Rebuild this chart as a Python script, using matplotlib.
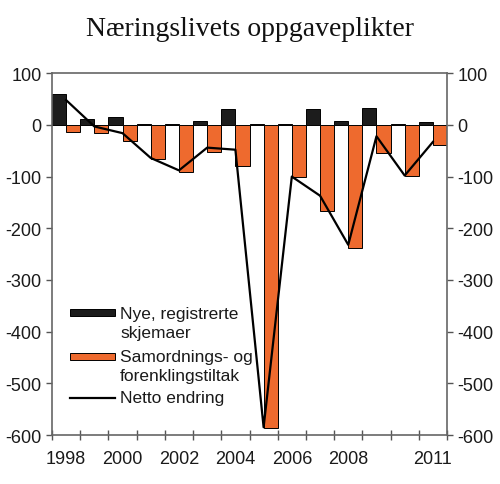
import matplotlib
matplotlib.use("Agg")
import matplotlib.pyplot as plt
from matplotlib.patches import Rectangle
from matplotlib.lines import Line2D
import numpy as np

years = list(range(1998, 2012))
new_forms = [60, 11, 16, 1, 2, 8, 30, 2, 2, 30, 8, 32, 1, 6]
simplification = [-13, -16, -32, -66, -92, -53, -79, -587, -100, -167, -239, -55, -99, -39]
net_change = [48, -3, -16, -64, -88, -44, -48, -585, -100, -137, -232, -22, -98, -33]
labeled_years = [1998, 2000, 2002, 2004, 2006, 2008, 2011]
yticks = [-600, -500, -400, -300, -200, -100, 0, 100]
legend_labels = [['Nye, registrerte', 'skjemaer'],
                 ['Samordnings- og', 'forenklingstiltak'],
                 ['Netto endring']]

BLACK = '#1c1c1c'
ORANGE = '#EE6A2E'

plt.rcParams['font.family'] = ['Liberation Sans', 'DejaVu Sans']

W, H = 500, 485
fig = plt.figure(figsize=(W / 100, H / 100), dpi=100)
ax = fig.add_axes([0.104, 0.101, 0.79, 0.746])

x = np.arange(len(years))
w = 0.5
ax.bar(x - w / 2, new_forms, width=w, color=BLACK, edgecolor='black', linewidth=0.7, zorder=2)
ax.bar(x + w / 2, simplification, width=w, color=ORANGE, edgecolor='black', linewidth=0.7, zorder=2)
ax.plot(x, net_change, color='black', linewidth=1.6, zorder=3)

ax.set_xlim(-0.5, len(years) - 0.5)
ax.set_ylim(-600, 100)

# x ticks at category boundaries, labels at centres
ax.set_xticks(np.arange(len(years) + 1) - 0.5)
ax.set_xticklabels([])
ax.set_xticks([years.index(y) for y in labeled_years], minor=True)
ax.set_xticklabels([str(y) for y in labeled_years], minor=True)
ax.tick_params(axis='x', which='major', direction='inout', length=7, width=1, color='#555555')
ax.tick_params(axis='x', which='minor', length=0, pad=11, labelsize=13, labelcolor='#1a1a1a')

ax.set_yticks(yticks)
ax.set_yticklabels([str(v) for v in yticks])
ax.tick_params(axis='y', which='major', direction='out', length=4.5, width=1, color='#555555',
               labelsize=13, labelcolor='#1a1a1a', left=True, right=True,
               labelleft=True, labelright=True, pad=3)

for s in ax.spines.values():
    s.set_color('#666666')
    s.set_linewidth(1.2)

fig.suptitle('Næringslivets oppgaveplikter', x=0.5, y=0.964,
             fontsize=20, family=['Liberation Serif', 'DejaVu Serif'], color='#111111')

# manual legend (handles aligned with first text line, as in the reference)
def fx(px):
    return px / W

def fy(py):
    return 1 - py / H

hx0, hx1, tx = 70, 115, 120
fig.patches.append(Rectangle((fx(hx0), fy(317)), fx(hx1) - fx(hx0), fy(310) - fy(317),
                             transform=fig.transFigure, facecolor=BLACK, edgecolor='black',
                             linewidth=0.7))
fig.patches.append(Rectangle((fx(hx0), fy(361)), fx(hx1) - fx(hx0), fy(354) - fy(361),
                             transform=fig.transFigure, facecolor=ORANGE, edgecolor='black',
                             linewidth=0.7))
fig.lines.append(Line2D([fx(hx0), fx(hx1)], [fy(399), fy(399)], transform=fig.transFigure,
                        color='black', linewidth=1.6))
line_y = [[314, 333.5], [357.5, 377], [399]]
for labels, ys in zip(legend_labels, line_y):
    for lab, yy in zip(labels, ys):
        fig.text(fx(tx), fy(yy), lab, fontsize=12.5, color='#1a1a1a', ha='left', va='center')

fig.savefig('out.png', dpi=100)
